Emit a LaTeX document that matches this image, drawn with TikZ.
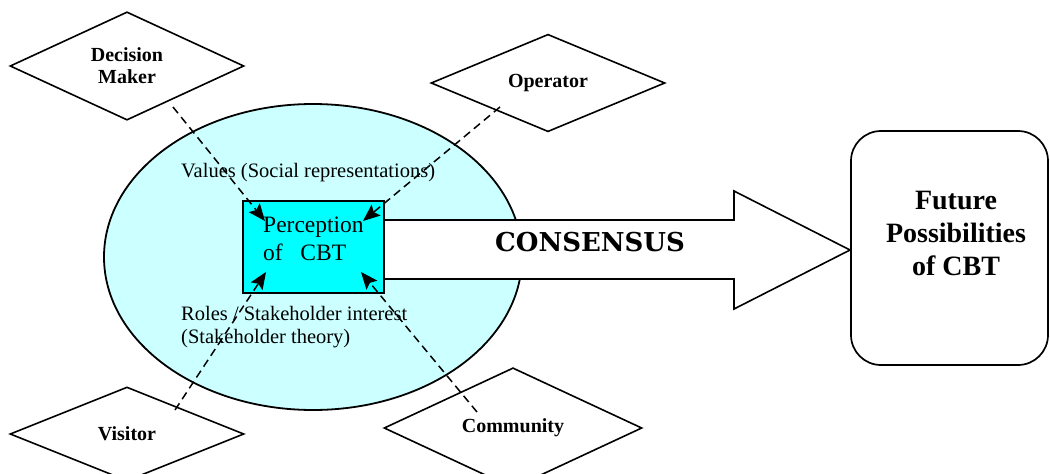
\documentclass[tikz,border=0pt]{standalone}
\usepackage{fontspec}
\setmainfont{Liberation Serif}
\newfontfamily\consfont{DejaVu Serif}
\usetikzlibrary{shapes.geometric,arrows.meta}

\definecolor{paleCyan}{RGB}{204,255,255}
\definecolor{boxCyan}{RGB}{0,255,255}

\begin{document}
\begin{tikzpicture}[x=1pt,y=-1pt,
  role/.style={diamond, draw, line width=1.6pt, inner sep=0pt, align=center,
    font=\fontsize{20}{22}\selectfont\bfseries},
  link/.style={line width=1.5pt, dash pattern=on 8pt off 5pt,
    -{Stealth[length=17pt,width=14pt,inset=3pt]}},
  note/.style={anchor=base west, inner sep=0pt, font=\fontsize{20.5}{23}\selectfont},
  percep/.style={anchor=base west, inner sep=0pt, font=\fontsize{23.5}{28}\selectfont}
]
\useasboundingbox (0,0) rectangle (1050,474);

% field of perception
\node[ellipse, draw, fill=paleCyan, line width=1.8pt, inner sep=0pt,
      minimum width=418pt, minimum height=306pt] (field) at (313,257) {};

% consensus block arrow
\draw[fill=white, line width=1.6pt]
  (384,220) -- (734,220) -- (734,191) -- (850,250) -- (734,309) -- (734,279) -- (384,279) -- cycle;
\node[font=\consfont\fontsize{26}{30}\selectfont\bfseries] (cons) at (590,242.5) {CONSENSUS};

% perception box
\node[draw, fill=boxCyan, line width=1.8pt, inner sep=0pt,
      minimum width=141pt, minimum height=92pt] (pc) at (313.5,247) {};
\node[percep] (pc1) at (263,232) {Perception};
\node[percep] (pc2) at (263,260) {of\ \ \ CBT};

% theory labels
\node[note] (val) at (181,177) {Values (Social representations)};
\node[note] (rol) at (181,320) {Roles / Stakeholder interest};
\node[note] (sth) at (181,343) {(Stakeholder theory)};

% stakeholders
\node[role, minimum width=234pt, minimum height=105pt] (dm) at (127,66) {Decision\\Maker};
\node[role, minimum width=234pt, minimum height=93pt]  (op) at (548,83) {Operator};
\node[role, minimum width=234pt, minimum height=94pt]  (vi) at (127,434) {Visitor};
\node[role, minimum width=258pt, minimum height=82pt]  (co) at (513,428) {Community};

% influence lines into the perception box
\coordinate (dmS) at (173,107); \coordinate (dmT) at (265,221);
\coordinate (opS) at (500,107); \coordinate (opT) at (363,221);
\coordinate (viS) at (175,410); \coordinate (viT) at (266,272);
\coordinate (coS) at (477,412); \coordinate (coT) at (361,272);
\draw[link] (dmS) -- (dmT);
\draw[link] (opS) -- (opT);
\draw[link] (viS) -- (viT);
\draw[link] (coS) -- (coT);

% outcome
\node[draw, rounded corners=30pt, line width=1.7pt, inner sep=0pt,
      minimum width=197pt, minimum height=234pt] (fut) at (949.5,248) {};
\node[align=center, inner sep=0pt, font=\fontsize{28}{33}\selectfont\bfseries]
  (futtxt) at (956,233) {Future\\Possibilities\\of CBT};
\end{tikzpicture}
\end{document}
